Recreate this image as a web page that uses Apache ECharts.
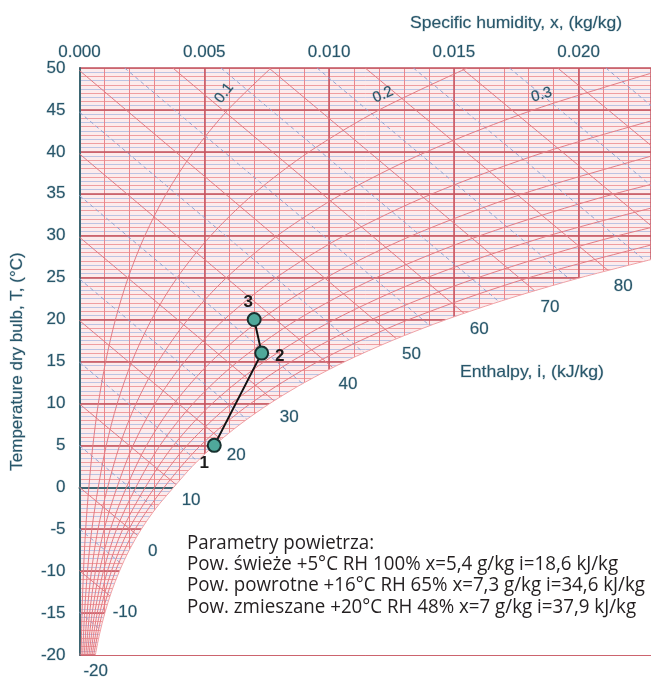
<!DOCTYPE html>
<html><head><meta charset="utf-8">
<script src="https://cdn.jsdelivr.net/npm/echarts@6/dist/echarts.min.js"></script>
<style>html,body{margin:0;padding:0;background:#fff}#c{width:651px;height:678px}</style>
</head><body><div id="c"></div>
<script>
// ---------- data ----------
const xTicks = [0, 0.005, 0.010, 0.015, 0.020];
const tTicks = [-20, -15, -10, -5, 0, 5, 10, 15, 20, 25, 30, 35, 40, 45, 50];

// saturation curve (RH = 1.0)
const satT = [-20, -17.5, -15, -12.5, -10, -7.5, -5, -2.5, 0, 2.5, 5, 7.5, 10, 12.5, 15, 17.5, 20, 22.5, 25, 27.5];
const satX = [0.000634, 0.000804, 0.001016, 0.001277, 0.001600, 0.001992, 0.002476, 0.003063, 0.003775, 0.004520,
              0.005401, 0.006432, 0.007631, 0.009024, 0.010646, 0.012525, 0.014698, 0.017203, 0.020081, 0.023369];

// relative humidity curves
const rhLevels = [0.1, 0.2, 0.3, 0.4, 0.5, 0.6, 0.7, 0.8, 0.9];
const rhTemps = [-20, -15, -10, -5, 0, 5, 10, 15, 20, 25, 30, 35, 40, 45, 50];
const rh10 = [0.0000632, 0.000101, 0.000160, 0.000247, 0.000375, 0.000536, 0.000755, 0.001048, 0.001439, 0.001951, 0.002617, 0.003474, 0.004566, 0.005945, 0.007675];
const rh20 = [0.000127, 0.000203, 0.000319, 0.000494, 0.000751, 0.001073, 0.001512, 0.002100, 0.002885, 0.003915, 0.005257, 0.006987, 0.009200, 0.012005, 0.015542];
const rh30 = [0.000190, 0.000304, 0.000479, 0.000741, 0.001127, 0.001610, 0.002270, 0.003156, 0.004338, 0.005891, 0.007919, 0.010540, 0.013902, 0.018183, 0.023607];
const rh40 = [0.000253, 0.000405, 0.000639, 0.000988, 0.001503, 0.002149, 0.003030, 0.004215, 0.005797, 0.007880, 0.010604, 0.014133, 0.018676, 0.024483];
const rh50 = [0.000316, 0.000507, 0.000799, 0.001236, 0.001881, 0.002688, 0.003792, 0.005278, 0.007263, 0.009881, 0.013311, 0.017768, 0.023521];
const rh60 = [0.000379, 0.000608, 0.000958, 0.001484, 0.002259, 0.003228, 0.004556, 0.006344, 0.008736, 0.011895, 0.016042, 0.021444, 0.028440];
const rh70 = [0.000443, 0.000709, 0.001118, 0.001732, 0.002637, 0.003770, 0.005322, 0.007414, 0.010216, 0.013922, 0.018797, 0.025163];
const rh80 = [0.000506, 0.000810, 0.001279, 0.001980, 0.003015, 0.004312, 0.006090, 0.008487, 0.011703, 0.015962, 0.021575, 0.028924];
const rh90 = [0.000569, 0.000912, 0.001440, 0.002229, 0.003394, 0.004855, 0.006859, 0.009565, 0.013197, 0.018015, 0.024378];
const rhLabelText = ['0.1', '0.2', '0.3'];
const rhLabelX = [0.0058, 0.01216, 0.01852];
const rhLabelT = [47.0, 46.8, 46.8];

// enthalpy lines (kJ/kg): start point and end point (x, T)
const enthalpyLevels = [-20, -15, -10, -5, 0, 5, 10, 15, 20, 25, 30, 35, 40, 45, 50, 55, 60, 65, 70, 75, 80, 85, 90, 95, 100, 105];
const enthStartX = [0, 0, 0, 0, 0, 0, 0, 0, 0, 0, 0, 0, 0, 0, 0, 0.00181, 0.00374, 0.00567, 0.00759, 0.00952, 0.01145, 0.01338, 0.01530, 0.01723, 0.01916, 0.02109];
const enthStartT = [-19.88, -14.91, -9.94, -4.97, 0, 4.97, 9.94, 14.91, 19.88, 24.85, 29.82, 34.79, 39.76, 44.73, 49.70, 50, 50, 50, 50, 50, 50, 50, 50, 50, 50, 50];
const enthEndX = [0.00005, 0.00085, 0.00122, 0.00172, 0.00233, 0.00304, 0.00387, 0.00473, 0.00568, 0.00671, 0.00780, 0.00894, 0.01016, 0.01141, 0.01270, 0.01405, 0.01542, 0.01682, 0.01825, 0.01970, 0.02119, 0.02268, 0.0229, 0.0229, 0.0229, 0.0229];
const enthEndT = [-20, -17.0, -12.95, -9.22, -5.75, -2.58, 0.32, 3.11, 5.69, 8.08, 10.30, 12.36, 14.24, 16.02, 17.71, 19.25, 20.72, 22.11, 23.41, 24.67, 25.84, 26.98, 31.2, 35.98, 40.76, 45.53];
const enthalpyLabelLevels = [-20, -10, 0, 10, 20, 30, 40, 50, 60, 70, 80];

// air states
const pointNames = ['1', '2', '3'];
const pointX = [0.0054, 0.0073, 0.0070];
const pointT = [5, 16, 20];

const paramLines = [
  'Parametry powietrza:',
  'Pow. świeże +5°C RH 100% x=5,4 g/kg i=18,6 kJ/kg',
  'Pow. powrotne +16°C RH 65% x=7,3 g/kg i=34,6 kJ/kg',
  'Pow. zmieszane +20°C RH 48% x=7 g/kg i=37,9 kJ/kg'
];
const xAxisTitle = 'Specific humidity, x, (kg/kg)';
const yAxisTitle = 'Temperature dry bulb, T, (°C)';
const enthalpyTitle = 'Enthalpy, i, (kJ/kg)';

// ---------- styles ----------
const TXT = '#27566a';
const HALO = 'rgba(39,86,106,0.22)';
const AXF = '"Liberation Sans", Arial, Helvetica, sans-serif';
const pointLabelOffsets = [[-10, 18], [18, 3], [-6, -17]];
const rhLabelRotate = [52, 24, 16];
const txtStyle = (size) => ({ color: TXT, fontSize: size, fontFamily: AXF, textBorderColor: HALO, textBorderWidth: 1, opacity: 1 });

const ctx = document.createElement('canvas').getContext('2d');
function textWidth(t, size, fam) { ctx.font = size + 'px ' + fam; return ctx.measureText(t).width; }

const pairs = (xs, ts) => xs.map((x, i) => [x, ts[i]]);
const series = [];

enthalpyLevels.forEach((h, i) => {
  const major = h % 10 === 0;
  series.push({
    type: 'line', silent: true, showSymbol: false, symbol: 'none', z: 2, animation: false,
    data: [[enthStartX[i], enthStartT[i]], [enthEndX[i], enthEndT[i]]],
    lineStyle: major ? { color: '#e27c84', width: 1 } : { color: '#93a5d2', width: 1, type: [4, 3] }
  });
});
[rh10, rh20, rh30, rh40, rh50, rh60, rh70, rh80, rh90].forEach(arr => {
  series.push({
    type: 'line', silent: true, showSymbol: false, symbol: 'none', z: 2, animation: false, smooth: 0.3,
    data: pairs(arr, rhTemps), lineStyle: { color: '#e27c84', width: 1 }
  });
});
// white region beyond saturation
series.push({
  type: 'line', silent: true, showSymbol: false, symbol: 'none', z: 3, animation: false, smooth: 0.3,
  data: pairs(satX, satT),
  lineStyle: { color: '#f0a2a6', width: 1 },
  areaStyle: { color: '#ffffff', opacity: 1, origin: 'start' }
});
// enthalpy labels at the saturation ends
series.push({
  type: 'scatter', silent: true, clip: false, symbolSize: 0, z: 6, animation: false,
  itemStyle: { opacity: 1 },
  data: enthalpyLabelLevels.map(h => { const i = enthalpyLevels.indexOf(h); return [enthEndX[i], enthEndT[i], String(h)]; }),
  label: Object.assign({ show: true, position: 'inside', offset: [15, 16], formatter: p => p.data[2] }, txtStyle(17))
});
// RH labels
series.push({
  type: 'scatter', silent: true, clip: false, symbolSize: 0, z: 6, animation: false,
  itemStyle: { opacity: 1 },
  data: rhLabelText.map((t, i) => ({ value: [rhLabelX[i], rhLabelT[i], t], label: { rotate: rhLabelRotate[i] } })),
  label: Object.assign({ show: true, position: 'inside', formatter: p => p.data.value[2] }, txtStyle(15))
});
// process line
series.push({
  type: 'line', z: 8, animation: false, symbol: 'circle', symbolSize: 13, showSymbol: true,
  data: pointNames.map((n, i) => ({ value: [pointX[i], pointT[i]], name: n,
    label: { show: true, position: 'inside', offset: pointLabelOffsets[i], formatter: n } })),
  lineStyle: { color: '#111', width: 2 },
  itemStyle: { color: '#4fa89a', borderColor: '#17302f', borderWidth: 2, opacity: 1 },
  label: { color: '#1b1b1b', fontSize: 17, fontWeight: 'bold', fontFamily: AXF, textBorderWidth: 0 }
});

const isTick = (arr, v) => arr.some(t => Math.abs(t - v) < 1e-9);
const fitScale = (t, size, fam, target) => target / textWidth(t, size, fam);

const pSize = 20, pFam = '"Open Sans", "Noto Sans", sans-serif';
const pWidest = Math.max(...paramLines.map(l => textWidth(l, pSize, pFam)));

const option = {
  animation: false,
  grid: { left: 79, top: 68, right: 0, bottom: 23, show: true, backgroundColor: '#fcebec', borderWidth: 0 },
  xAxis: [
    { type: 'value', min: 0, max: 0.0229, interval: 0.005, position: 'top', z: 1,
      axisLine: { show: true, lineStyle: { color: '#3d6672', width: 2 } }, axisTick: { show: false },
      axisLabel: Object.assign({ margin: 7, showMaxLabel: false,
        formatter: v => isTick(xTicks, v) ? v.toFixed(3) : '' }, txtStyle(17)),
      splitLine: { show: true, lineStyle: { color: '#c65460', width: 1.5 } } },
    { type: 'value', min: 0, max: 0.0229, interval: 0.001, position: 'bottom', z: 0,
      axisLine: { show: false }, axisTick: { show: false }, axisLabel: { show: false },
      splitLine: { show: true, lineStyle: { color: '#ea868b', width: 1 } } }
  ],
  yAxis: [
    { type: 'value', min: -20, max: 50, interval: 5, position: 'left', z: 1,
      name: yAxisTitle, nameLocation: 'middle', nameGap: 54,
      nameTextStyle: txtStyle(17),
      axisLine: { show: true, lineStyle: { color: '#3d6672', width: 2 } }, axisTick: { show: false },
      axisLabel: Object.assign({ margin: 14, formatter: v => isTick(tTicks, v) ? String(v) : '' }, txtStyle(17)),
      splitLine: { show: true, lineStyle: { color: '#c0525e', width: 1.5 } } },
    { type: 'value', min: -20, max: 50, interval: 1, position: 'right', z: 0,
      axisLine: { show: false }, axisTick: { show: false }, axisLabel: { show: false },
      splitLine: { show: true, lineStyle: { color: '#ef9da0', width: 1 } },
      minorTick: { show: false, splitNumber: 2 },
      minorSplitLine: { show: true, lineStyle: { color: '#bcc3e2', width: 1 } } }
  ],
  series: series,
  graphic: [
    { type: 'text', x: 410, y: 23, scaleX: fitScale(xAxisTitle, 17, AXF, 212), z: 10,
      style: { text: xAxisTitle, fontSize: 17, fontFamily: AXF, fill: TXT, stroke: HALO, lineWidth: 1, textVerticalAlign: 'middle' } },
    { type: 'text', x: 460, y: 372, scaleX: fitScale(enthalpyTitle, 17, AXF, 144), z: 10,
      style: { text: enthalpyTitle, fontSize: 17, fontFamily: AXF, fill: TXT, stroke: HALO, lineWidth: 1, textVerticalAlign: 'middle' } },
    { type: 'text', x: 187, y: 532.4, scaleX: 458 / pWidest, z: 10,
      style: { text: paramLines.join('\n'), fontSize: pSize, fontFamily: pFam, fill: '#231f20', lineHeight: 21.3, textVerticalAlign: 'top' } }
  ]
};
const chart = echarts.init(document.getElementById('c'));
chart.setOption(option);
</script></body></html>
